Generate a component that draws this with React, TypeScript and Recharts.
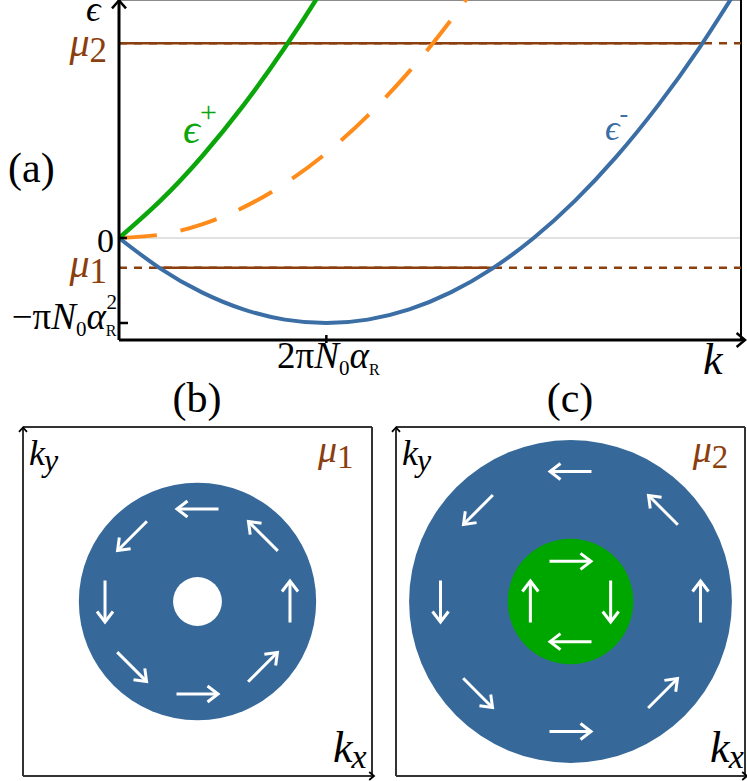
import React from "react";
import {
  LineChart, Line, XAxis, YAxis, ReferenceLine, ReferenceDot,
  ScatterChart, Scatter, Label,
} from "recharts";

const SERIF = '"Liberation Serif", "Times New Roman", "DejaVu Serif", serif';
const BLUE = "#3a6ea5";
const DISK_BLUE = "#366899";
const GREEN = "#0aa60a";
const DISK_GREEN = "#00a600";
const ORANGE = "#ff8c1a";
const BROWN = "#8b3e0e";

// panel (a): k in units of 2πN0αR, energy in units of πN0αR²
const kValues = [0, 0.2, 0.4, 0.6, 0.8, 1.0, 1.2, 1.4, 1.6, 1.8, 2.0, 2.2, 2.4, 2.6, 2.8, 3.0];
const epsMinus = [0, -0.36, -0.64, -0.84, -0.96, -1.0, -0.96, -0.84, -0.64, -0.36, 0, 0.44, 0.96, 1.56, 2.24, 3.0];
const epsPlus = [0, 0.44, 0.96, 1.56, 2.24, 3.0, 3.84, null, null, null, null, null, null, null, null, null];
const epsFree = [0, 0.04, 0.16, 0.36, 0.64, 1.0, 1.44, 1.96, 2.56, 3.24, null, null, null, null, null, null];

const mu1 = -0.35;
const mu2 = 2.29;
const mu1Crossings = [0.2, 1.8];
const mu2Crossing = 2.81;

// panels (b), (c): Fermi disks (radius in box half-widths) and spin arrows
const diskB = { outer: 0.68, inner: 0.14 };
const diskC = { outer: 0.925, inner: 0.36 };

const arrowXB = [0, -0.375, -0.53, -0.375, 0, 0.375, 0.53, 0.375];
const arrowYB = [0.53, 0.375, 0, -0.375, -0.53, -0.375, 0, 0.375];
const arrowAngB = [180, 225, 270, 315, 0, 45, 90, 135];

const arrowXC = [0, -0.53, -0.745, -0.53, 0, 0.53, 0.745, 0.53];
const arrowYC = [0.745, 0.525, 0, -0.525, -0.745, -0.525, 0, 0.525];
const arrowAngC = [180, 225, 270, 315, 0, 45, 90, 135];

const innerXC = [0, 0.23, 0, -0.23];
const innerYC = [0.23, 0, -0.23, 0];
const innerAngC = [0, 270, 180, 90];

const bandData = kValues.map((k, i) => ({ k, minus: epsMinus[i], plus: epsPlus[i], free: epsFree[i] }));
const toArrows = (xs: number[], ys: number[], angs: number[]) => xs.map((x, i) => ({ x, y: ys[i], angle: angs[i] }));

const PANEL_HALF = 174.5;
const serif = (size: number, extra: any = {}) => ({ fontFamily: SERIF, fontSize: size, ...extra });

function EnergyTick(props: any) {
  const { x, y, payload } = props;
  const v = payload.value;
  if (v === -1) {
    return (
      <g>
        <line x1={x} x2={x + 9} y1={y} y2={y} stroke="#000" strokeWidth={2.5} />
        <text x={x - 2} y={y + 6} textAnchor="end" style={serif(37)} fill="#000">
          −π<tspan style={{ fontStyle: "italic" }}>N</tspan>
          <tspan style={{ fontSize: 21 }} dy={7}>0</tspan>
          <tspan style={{ fontStyle: "italic" }} dy={-7}>α</tspan>
          <tspan style={{ fontSize: 16 }} dy={7}>R</tspan>
          <tspan style={{ fontSize: 21 }} dx={-10} dy={-27}>2</tspan>
        </text>
      </g>
    );
  }
  if (v === 0) {
    return (
      <g>
        <line x1={x} x2={x + 8} y1={y} y2={y} stroke="#000" strokeWidth={2.5} />
        <text x={x - 5} y={y + 14} textAnchor="end" style={serif(34)} fill="#000">0</text>
      </g>
    );
  }
  const idx = v === mu1 ? "1" : "2";
  return (
    <text x={x - 12} y={y + (v === mu1 ? 9 : 13)} textAnchor="end" style={serif(40)} fill={BROWN}>
      <tspan style={{ fontStyle: "italic" }}>μ</tspan>
      <tspan style={{ fontSize: 35 }} dy={6}>{idx}</tspan>
    </text>
  );
}

function KTick(props: any) {
  const { x, y } = props;
  return (
    <g>
      <line x1={x} x2={x} y1={y - 5} y2={y + 3} stroke="#000" strokeWidth={2.5} />
      <text x={x + 2} y={y + 28} textAnchor="middle" style={serif(37)} fill="#000">
        2π<tspan style={{ fontStyle: "italic" }}>N</tspan>
        <tspan style={{ fontSize: 21 }} dy={7}>0</tspan>
        <tspan style={{ fontStyle: "italic" }} dy={-7}>α</tspan>
        <tspan style={{ fontSize: 16 }} dy={7}>R</tspan>
      </text>
    </g>
  );
}

const upHead = (size: number, w: number) => (p: any) => (
  <polyline points={`${p.cx - size},${p.cy + size * 1.2} ${p.cx},${p.cy + 0.5} ${p.cx + size},${p.cy + size * 1.2}`}
    fill="none" stroke="#000" strokeWidth={w} />
);
const rightHead = (size: number, w: number, ext: number) => (p: any) => (
  <g>
    <line x1={p.cx} x2={p.cx + ext} y1={p.cy} y2={p.cy} stroke="#000" strokeWidth={w} />
    <polyline points={`${p.cx + ext - size * 1.2},${p.cy - size} ${p.cx + ext},${p.cy} ${p.cx + ext - size * 1.2},${p.cy + size}`}
      fill="none" stroke="#000" strokeWidth={w} />
  </g>
);

const curveLabel = (sup: string, color: string, size: number, supSize: number, supDy: number) => (p: any) => (
  <text x={p.cx} y={p.cy} style={serif(size)} fill={color}>
    <tspan style={{ fontStyle: "italic" }}>ϵ</tspan>
    <tspan style={{ fontSize: supSize }} dy={supDy}>{sup}</tspan>
  </text>
);

function BandPanel() {
  return (
    <LineChart width={747} height={395} data={bandData} margin={{ top: 10, right: 6, bottom: 0, left: 0 }}>
      <XAxis type="number" dataKey="k" domain={[0, 3]} ticks={[1]} allowDataOverflow height={45}
        tickLine={false} tickSize={0} tickMargin={0} tick={<KTick />} interval={0}
        axisLine={{ stroke: "#000", strokeWidth: 3 }}>
        <Label content={(p: any) => (
          <text x={p.viewBox.x + p.viewBox.width - 38} y={p.viewBox.y + 34}
            style={serif(44, { fontStyle: "italic" })} fill="#000">k</text>
        )} />
      </XAxis>
      <YAxis type="number" domain={[-1.2, 2.8]} ticks={[mu2, 0, mu1, -1]} allowDataOverflow width={119}
        tickLine={false} tickSize={0} tickMargin={0} tick={EnergyTick} interval={0}
        axisLine={{ stroke: "#000", strokeWidth: 3 }}>
        <Label content={(p: any) => (
          <text x={p.viewBox.x + p.viewBox.width - 33} y={p.viewBox.y + 21}
            style={serif(36, { fontStyle: "italic" })} fill="#000">ϵ</text>
        )} />
      </YAxis>
      <ReferenceLine y={0} stroke="#d9d9d9" strokeWidth={1.5} />
      <ReferenceLine y={2.8} stroke="#666" strokeWidth={1.5} />
      <ReferenceLine x={3} stroke="#000" strokeWidth={2} />
      <ReferenceLine y={mu1} stroke={BROWN} strokeWidth={2.5} strokeDasharray="8 7" />
      <ReferenceLine segment={[{ x: mu1Crossings[0], y: mu1 }, { x: mu1Crossings[1], y: mu1 }]} stroke={BROWN} strokeWidth={2.5} />
      <ReferenceLine y={mu2} stroke={BROWN} strokeWidth={2.5} strokeDasharray="8 7" />
      <ReferenceLine segment={[{ x: 0, y: mu2 }, { x: mu2Crossing, y: mu2 }]} stroke={BROWN} strokeWidth={2.5} />
      <Line type="natural" dataKey="free" stroke={ORANGE} strokeWidth={4} strokeDasharray="38 24" dot={false} isAnimationActive={false} />
      <Line type="natural" dataKey="plus" stroke={GREEN} strokeWidth={4.5} dot={false} isAnimationActive={false} />
      <Line type="natural" dataKey="minus" stroke={BLUE} strokeWidth={4} dot={false} isAnimationActive={false} />
      <ReferenceDot x={0.309} y={1.118} r={0} ifOverflow="visible" shape={curveLabel("+", GREEN, 42, 30, -21)} />
      <ReferenceDot x={2.344} y={1.153} r={0} ifOverflow="visible" shape={curveLabel("-", BLUE, 36, 26, -18)} />
      <ReferenceDot x={0} y={2.8} r={0} ifOverflow="visible" shape={upHead(7, 2.5)} />
      <ReferenceDot x={3} y={-1.2} r={0} ifOverflow="visible" shape={rightHead(7, 2.5, 4)} />
    </LineChart>
  );
}

function ArrowShape(props: any) {
  const { cx, cy, payload } = props;
  return (
    <g transform={`translate(${cx},${cy}) rotate(${-payload.angle})`}>
      <line x1={-21} x2={20} y1={0} y2={0} stroke="#fff" strokeWidth={3} />
      <polyline points="10,-8 20.5,0 10,8" fill="none" stroke="#fff" strokeWidth={3} />
    </g>
  );
}

const diskShape = (fill: string) => (props: any) => (
  <circle cx={props.cx} cy={props.cy} r={props.payload.kf * PANEL_HALF} fill={fill} />
);

const kLabel = (sub: string, size: number, subSize: number) => (p: any) => (
  <text x={p.cx} y={p.cy} style={serif(size, { fontStyle: "italic" })} fill="#000">
    k<tspan style={{ fontSize: subSize }} dx={-1} dy={6}>{sub}</tspan>
  </text>
);
const muLabel = (idx: string) => (p: any) => (
  <text x={p.cx} y={p.cy} style={serif(38)} fill={BROWN}>
    <tspan style={{ fontStyle: "italic" }}>μ</tspan>
    <tspan style={{ fontSize: 33 }} dy={6}>{idx}</tspan>
  </text>
);

function FermiPanel(props: any) {
  const { width, margin, disk, innerFill, arrows, innerArrows, mu, muX, kxX } = props;
  return (
    <ScatterChart width={width} height={381} margin={margin}>
      <XAxis type="number" dataKey="x" domain={[-1, 1]} hide />
      <YAxis type="number" dataKey="y" domain={[-1, 1]} hide />
      <ReferenceLine x={-1} stroke="#333" strokeWidth={2} />
      <ReferenceLine x={1} stroke="#333" strokeWidth={2} />
      <ReferenceLine y={-1} stroke="#333" strokeWidth={2} />
      <ReferenceLine y={1} stroke="#333" strokeWidth={2} />
      <Scatter data={[{ x: 0, y: 0, kf: disk.outer }]} shape={diskShape(DISK_BLUE)} isAnimationActive={false} />
      <Scatter data={[{ x: 0, y: 0, kf: disk.inner }]} shape={diskShape(innerFill)} isAnimationActive={false} />
      <Scatter data={arrows} shape={ArrowShape} isAnimationActive={false} />
      {innerArrows && <Scatter data={innerArrows} shape={ArrowShape} isAnimationActive={false} />}
      <ReferenceDot x={-0.966} y={0.785} r={0} ifOverflow="visible" shape={kLabel("y", 36, 32)} />
      <ReferenceDot x={muX} y={0.8} r={0} ifOverflow="visible" shape={muLabel(mu)} />
      <ReferenceDot x={kxX} y={-0.92} r={0} ifOverflow="visible" shape={kLabel("x", 44, 34)} />
      <ReferenceDot x={-1} y={1} r={0} ifOverflow="visible" shape={upHead(4, 1.8)} />
      <ReferenceDot x={1} y={-1} r={0} ifOverflow="visible" shape={rightHead(4, 1.8, 2)} />
    </ScatterChart>
  );
}

export default function App() {
  return (
    <div style={{ position: "absolute", left: 0, top: 0, width: 747, height: 781, background: "#fff" }}>
      <div style={{ position: "absolute", left: 0, top: -10 }}>
        <BandPanel />
      </div>
      <div style={{ position: "absolute", left: 0, top: 400 }}>
        <FermiPanel width={380} margin={{ top: 27, right: 8, bottom: 5, left: 23 }}
          disk={diskB} innerFill="#fff" arrows={toArrows(arrowXB, arrowYB, arrowAngB)}
          mu="1" muX={0.69} kxX={0.777} />
      </div>
      <div style={{ position: "absolute", left: 380, top: 400 }}>
        <FermiPanel width={367} margin={{ top: 27, right: 2, bottom: 5, left: 16 }}
          disk={diskC} innerFill={DISK_GREEN} arrows={toArrows(arrowXC, arrowYC, arrowAngC)}
          innerArrows={toArrows(innerXC, innerYC, innerAngC)} mu="2" muX={0.70} kxX={0.80} />
      </div>
      <svg width={747} height={781} style={{ position: "absolute", left: 0, top: 0, pointerEvents: "none" }}>
        <text x={8} y={182} style={serif(42)} fill="#000">(a)</text>
        <text x={197} y={412} textAnchor="middle" style={serif(42)} fill="#000">(b)</text>
        <text x={570} y={412} textAnchor="middle" style={serif(42)} fill="#000">(c)</text>
      </svg>
    </div>
  );
}
